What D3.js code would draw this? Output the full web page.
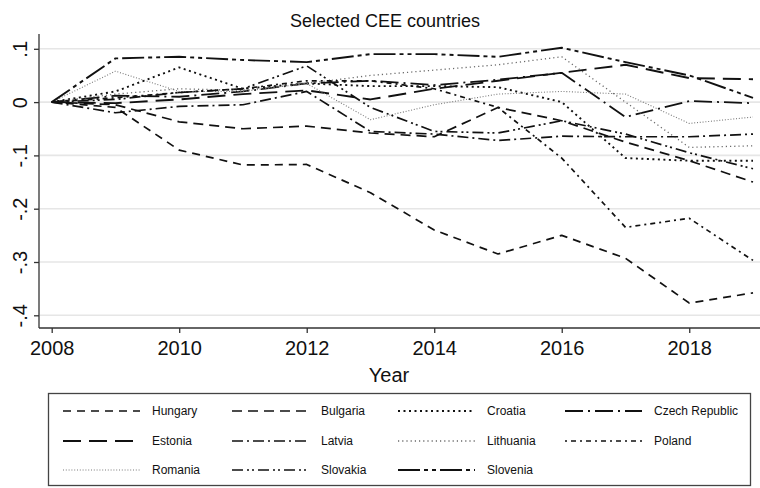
<!DOCTYPE html>
<html>
<head>
<meta charset="utf-8">
<script src="https://cdn.jsdelivr.net/npm/d3@7"></script>
<style>
  html, body { margin: 0; padding: 0; background: #fff; }
  svg { display: block; font-family: "Liberation Sans", Arial, sans-serif; }
</style>
</head>
<body>
<svg id="chart" width="760" height="488"></svg>
<script>
// Years on the x axis
const years = [2008, 2009, 2010, 2011, 2012, 2013, 2014, 2015, 2016, 2017, 2018, 2019];

// Country series (change relative to 2008)
const hungary   = [0, -0.010, -0.090, -0.118, -0.117, -0.170, -0.240, -0.285, -0.250, -0.293, -0.377, -0.358];
const bulgaria  = [0, -0.005, -0.037, -0.050, -0.045, -0.058, -0.065, -0.010, -0.035, -0.075, -0.110, -0.150];
const croatia   = [0,  0.020,  0.065,  0.025,  0.035,  0.030,  0.030,  0.028,  0.000, -0.105, -0.110, -0.110];
const czech     = [0,  0.012,  0.010,  0.020,  0.035,  0.040,  0.032,  0.042,  0.055, -0.028,  0.002, -0.002];
const estonia   = [0, -0.002,  0.005,  0.015,  0.022,  0.005,  0.025,  0.040,  0.055,  0.070,  0.045,  0.043];
const latvia    = [0, -0.020, -0.008, -0.005,  0.020, -0.055, -0.060, -0.072, -0.064, -0.065, -0.065, -0.060];
const lithuania = [0,  0.015,  0.025,  0.022,  0.035,  0.050,  0.060,  0.070,  0.085,  0.000, -0.085, -0.082];
const poland    = [0,  0.008,  0.018,  0.025,  0.040,  0.040,  0.025, -0.010, -0.105, -0.235, -0.218, -0.297];
const romania   = [0,  0.058,  0.020,  0.020,  0.035, -0.033, -0.005,  0.015,  0.020,  0.015, -0.040, -0.028];
const slovakia  = [0,  0.005,  0.018,  0.025,  0.068, -0.010, -0.055, -0.058, -0.035, -0.060, -0.095, -0.125];
const slovenia  = [0,  0.082,  0.085,  0.079,  0.075,  0.090,  0.090,  0.085,  0.102,  0.075,  0.050,  0.008];

// Axis ticks
const yTicks = [0.1, 0, -0.1, -0.2, -0.3, -0.4];
const yTickLabels = [".1", "0", "-.1", "-.2", "-.3", "-.4"];
const xTicks = [2008, 2010, 2012, 2014, 2016, 2018];

// Series list with line styles
const series = [
  { name: "Hungary",        values: hungary,   dash: "8,6",              color: "#111", width: 1.7 },
  { name: "Bulgaria",       values: bulgaria,  dash: "10,6",             color: "#111", width: 1.7 },
  { name: "Croatia",        values: croatia,   dash: "2,3.5",            color: "#111", width: 1.9 },
  { name: "Czech Republic", values: czech,     dash: "18,5,2,5",         color: "#111", width: 1.8 },
  { name: "Estonia",        values: estonia,   dash: "18,8",             color: "#111", width: 1.9 },
  { name: "Latvia",         values: latvia,    dash: "11,4,2,4",         color: "#111", width: 1.7 },
  { name: "Lithuania",      values: lithuania, dash: "1.2,3",            color: "#6a6a6a", width: 1.3 },
  { name: "Poland",         values: poland,    dash: "2,4,5,4",          color: "#111", width: 1.7 },
  { name: "Romania",        values: romania,   dash: "1,1.8",            color: "#7a7a7a", width: 1.1 },
  { name: "Slovakia",       values: slovakia,  dash: "11,4,2,3,2,4",     color: "#111", width: 1.7 },
  { name: "Slovenia",       values: slovenia,  dash: "22,4,4,4,4,4",     color: "#111", width: 1.9 }
];

const svg = d3.select("#chart");

const x = d3.scaleLinear().domain([2008, 2019]).range([51.7, 753]);
const y = d3.scaleLinear().domain([-0.4, 0.1]).range([315.3, 48.8]);

const plotLeft = 39, plotRight = 760, plotTop = 34, plotBottom = 328;
const axisFont = "'Liberation Sans', Arial, sans-serif";

// Title
svg.append("text")
  .attr("x", 385).attr("y", 27)
  .attr("text-anchor", "middle")
  .attr("font-size", 18)
  .attr("fill", "#111")
  .text("Selected CEE countries");

// Horizontal grid lines
svg.append("g").selectAll("line")
  .data(yTicks)
  .join("line")
  .attr("x1", plotLeft + 1).attr("x2", plotRight)
  .attr("y1", d => y(d)).attr("y2", d => y(d))
  .attr("stroke", "#e6e6e6")
  .attr("stroke-width", 1.6);

// Y axis
const yAxis = d3.axisLeft(y)
  .tickValues(yTicks)
  .tickSize(5)
  .tickFormat((d, i) => yTickLabels[i]);
const gy = svg.append("g")
  .attr("transform", `translate(${plotLeft},0)`)
  .call(yAxis);
gy.select(".domain").attr("d", `M0,${plotTop}V${plotBottom}`).attr("stroke", "#333").attr("stroke-width", 1.3);
gy.selectAll(".tick line").attr("stroke", "#333").attr("stroke-width", 1.3);
gy.selectAll(".tick text")
  .attr("font-size", 20)
  .attr("font-family", axisFont)
  .attr("fill", "#111")
  .attr("text-anchor", "middle")
  .attr("x", 0).attr("y", 0).attr("dy", 0)
  .attr("transform", "translate(-12,0) rotate(-90)");

// X axis
const xAxis = d3.axisBottom(x)
  .tickValues(xTicks)
  .tickSize(5)
  .tickFormat(d3.format("d"));
const gx = svg.append("g")
  .attr("transform", `translate(0,${plotBottom})`)
  .call(xAxis);
gx.select(".domain").attr("d", `M${plotLeft},0H${plotRight}`).attr("stroke", "#333").attr("stroke-width", 1.3);
gx.selectAll(".tick line").attr("stroke", "#333").attr("stroke-width", 1.3);
gx.selectAll(".tick text")
  .attr("font-size", 20)
  .attr("font-family", axisFont)
  .attr("fill", "#111")
  .attr("y", 13).attr("dy", "0.71em");

// X axis title
svg.append("text")
  .attr("x", 389).attr("y", 382)
  .attr("text-anchor", "middle")
  .attr("font-size", 20)
  .attr("fill", "#111")
  .text("Year");

// Series lines
const line = d3.line()
  .x((d, i) => x(years[i]))
  .y(d => y(d));

svg.append("g").selectAll("path")
  .data(series)
  .join("path")
  .attr("d", d => line(d.values))
  .attr("fill", "none")
  .attr("stroke", d => d.color)
  .attr("stroke-width", d => d.width)
  .attr("stroke-dasharray", d => d.dash)
  .attr("stroke-linejoin", "round");

// Legend
const legend = svg.append("g");
legend.append("rect")
  .attr("x", 48.5).attr("y", 393.5)
  .attr("width", 702).attr("height", 92)
  .attr("fill", "#fff")
  .attr("stroke", "#444")
  .attr("stroke-width", 1.3);

const colX = [63, 232, 398, 565];
const rowY = [411, 441, 470];
const items = legend.selectAll("g.item")
  .data(series)
  .join("g")
  .attr("class", "item")
  .attr("transform", (d, i) => `translate(${colX[i % 4]},${rowY[Math.floor(i / 4)]})`);

items.append("line")
  .attr("x1", 0).attr("x2", 77)
  .attr("y1", 0).attr("y2", 0)
  .attr("stroke", d => d.color)
  .attr("stroke-width", d => d.width)
  .attr("stroke-dasharray", d => d.dash);

items.append("text")
  .attr("x", 89).attr("y", 0)
  .attr("dy", "0.35em")
  .attr("font-size", 12)
  .attr("fill", "#111")
  .text(d => d.name);
</script>
</body>
</html>
